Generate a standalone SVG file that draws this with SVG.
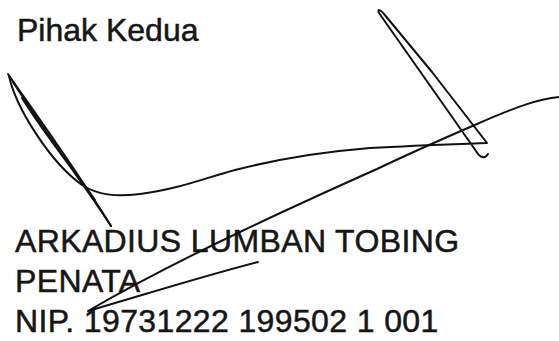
<svg xmlns="http://www.w3.org/2000/svg" width="559" height="341" viewBox="0 0 559 341">
<style>
.t{font-family:"Liberation Sans",Arial,sans-serif;font-size:32px;fill:#161616;stroke:#161616;stroke-width:0.5}
.w{letter-spacing:0.37px}
.s{fill:none;stroke:#111;stroke-width:2;stroke-linecap:round;stroke-linejoin:round}
</style>
<rect width="559" height="341" fill="#fff"/>
<g id="texts">
<text class="t" x="17" y="41">Pihak Kedua</text>
<text class="t w" x="15" y="252">ARKADIUS LUMBAN TOBING</text>
<text class="t w" x="15" y="292">PENATA</text>
<text class="t w" x="15" y="332">NIP. 19731222 199502 1 001</text>
</g>
<g id="signature">
<path class="s" d="M8,74 C20,92 70,160 111,226"/>
<path class="s" d="M111,226 C95,200 50,140 13,82"/>
<path class="s" d="M9,76 C16,108 50,162 82,185 C98,195 115,197 140,194 C175,190 205,178 235,170 C270,161 320,152 370,148 C420,145 460,144 487,143 L432,72 L384,14 C380,9 377,9 379,13 L476,151 C480,158 485,159 488,154"/>
<path class="s" d="M559,97 C540,99 520,105 477,124 C440,140 400,158 377,169 C330,190 290,208 240,232 C200,251 150,275 88,311 C140,296 200,277 258,262"/>
<path class="s" d="M22,98 C45,135 70,165 95,200" stroke-width="1.5"/>
</g>
</svg>
